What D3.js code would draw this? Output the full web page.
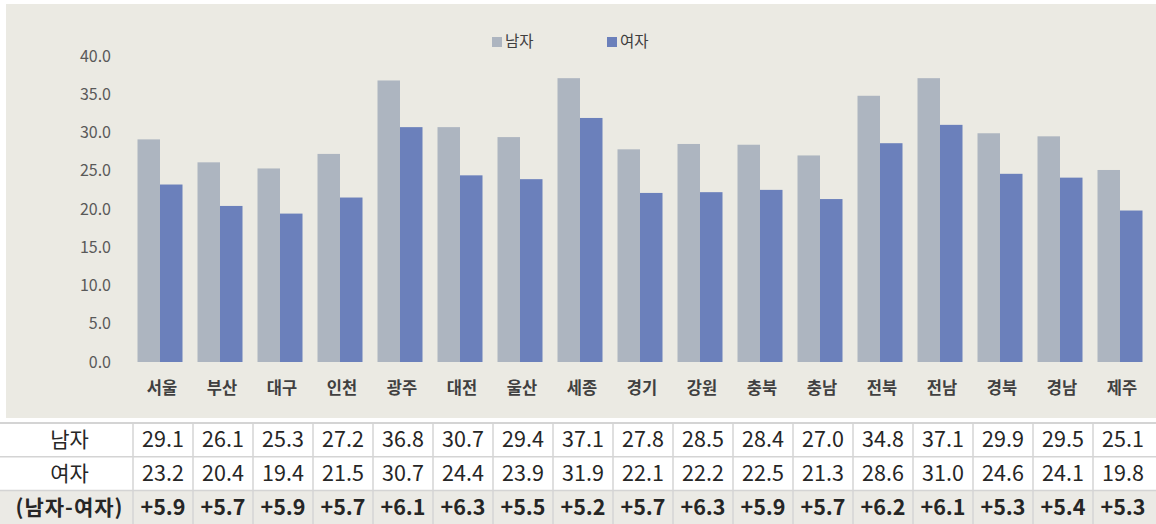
<!DOCTYPE html>
<html>
<head>
<meta charset="utf-8">
<script src="https://cdn.jsdelivr.net/npm/d3@7"></script>
<style>
  body { margin: 0; background: #fff; }
  text { font-family: "Noto Sans CJK KR", "Noto Sans", sans-serif; }
</style>
</head>
<body>
<svg id="chart" width="1156" height="524"></svg>
<script>

// data
var regions = ["서울","부산","대구","인천","광주","대전","울산","세종","경기","강원","충북","충남","전북","전남","경북","경남","제주"];
var male    = [29.1,26.1,25.3,27.2,36.8,30.7,29.4,37.1,27.8,28.5,28.4,27.0,34.8,37.1,29.9,29.5,25.1];
var female  = [23.2,20.4,19.4,21.5,30.7,24.4,23.9,31.9,22.1,22.2,22.5,21.3,28.6,31.0,24.6,24.1,19.8];
var diff    = ["+5.9","+5.7","+5.9","+5.7","+6.1","+6.3","+5.5","+5.2","+5.7","+6.3","+5.9","+5.7","+6.2","+6.1","+5.3","+5.4","+5.3"];
var yTicks  = [0,5,10,15,20,25,30,35,40];
var seriesNames = ["남자","여자"];
var rowLabels = ["남자","여자","(남자-여자)"];

var colMale = "#adb5c0", colFemale = "#6b80bb";

var svg = d3.select("#chart");

// plot background
svg.append("rect")
    .attr("x", 6).attr("y", 4)
    .attr("width", 1150).attr("height", 414)
    .attr("fill", "#ebeae3");

var x = d3.scaleBand().domain(regions).range([130, 1150]).paddingInner(0.25).paddingOuter(0.125);
var xs = d3.scaleBand().domain(seriesNames).range([0, x.bandwidth()]);
var y = d3.scaleLinear().domain([0, 40]).range([362, 56]);

// y axis labels
svg.append("g").selectAll("text")
    .data(yTicks)
  .enter().append("text")
    .attr("x", 111)
    .attr("y", function(d) { return y(d); })
    .attr("dy", "0.35em")
    .attr("text-anchor", "end")
    .attr("font-size", 16)
    .attr("fill", "#595959")
    .text(function(d) { return d3.format(".1f")(d); });

var groups = svg.append("g").selectAll("g")
    .data(regions)
  .enter().append("g")
    .attr("transform", function(d) { return "translate(" + x(d) + ",0)"; });

groups.append("rect")
    .attr("x", xs("남자"))
    .attr("y", function(d, i) { return y(male[i]); })
    .attr("width", xs.bandwidth())
    .attr("height", function(d, i) { return y(0) - y(male[i]); })
    .attr("fill", colMale);

groups.append("rect")
    .attr("x", xs("여자"))
    .attr("y", function(d, i) { return y(female[i]); })
    .attr("width", xs.bandwidth())
    .attr("height", function(d, i) { return y(0) - y(female[i]); })
    .attr("fill", colFemale);

// category labels
svg.append("g").selectAll("text")
    .data(regions)
  .enter().append("text")
    .attr("x", function(d) { return x(d) + x.bandwidth() / 2 + 2; })
    .attr("y", 388)
    .attr("dy", "0.35em")
    .attr("text-anchor", "middle")
    .attr("font-size", 16.5)
    .attr("font-weight", "bold")
    .attr("fill", "#404040")
    .text(function(d) { return d; });

// legend
var legend = svg.append("g");
var legX = [492, 607];
seriesNames.forEach(function(s, i) {
  legend.append("rect")
      .attr("x", legX[i]).attr("y", 37)
      .attr("width", 10).attr("height", 10)
      .attr("fill", i == 0 ? colMale : colFemale);
  legend.append("text")
      .attr("x", legX[i] + 13).attr("y", 42)
      .attr("dy", "0.35em")
      .attr("font-size", 15.5)
      .attr("fill", "#404040")
      .text(s);
});

// table under the chart
var tableTop = 423, rowH = 33.7, firstW = 133, colW = 60;
var rows = [male.map(function(v) { return d3.format(".1f")(v); }),
            female.map(function(v) { return d3.format(".1f")(v); }),
            diff];

var table = svg.append("g");

table.append("rect")
    .attr("x", 0).attr("y", tableTop + 2 * rowH)
    .attr("width", 1156).attr("height", rowH)
    .attr("fill", "#ebeae5");

// grid lines
for (var r = 0; r <= 2; r++) {
  table.append("line")
      .attr("x1", 0).attr("x2", 1156)
      .attr("y1", tableTop + r * rowH).attr("y2", tableTop + r * rowH)
      .attr("stroke", "#d4d4d4").attr("stroke-width", r == 0 ? 2 : 1.5);
}
for (var c = 0; c <= 16; c++) {
  table.append("line")
      .attr("x1", firstW + c * colW).attr("x2", firstW + c * colW)
      .attr("y1", tableTop).attr("y2", 524)
      .attr("stroke", "#d4d4d4").attr("stroke-width", 1.5);
}

rowLabels.forEach(function(lab, r) {
  var cy = tableTop + r * rowH + rowH / 2;
  table.append("text")
      .attr("x", firstW / 2 + 3).attr("y", cy)
      .attr("dy", "0.35em")
      .attr("text-anchor", "middle")
      .attr("font-size", r == 2 ? 21 : 21)
      .attr("font-weight", r == 2 ? "bold" : "normal")
      .attr("letter-spacing", r == 2 ? 1 : 0)
      .attr("fill", "#262626")
      .text(lab);
  table.append("g").selectAll("text")
      .data(rows[r])
    .enter().append("text")
      .attr("x", function(d, i) { return firstW + colW * i + colW / 2; })
      .attr("y", cy)
      .attr("dy", "0.35em")
      .attr("text-anchor", "middle")
      .attr("font-size", 21.5)
      .attr("font-weight", r == 2 ? "bold" : "normal")
      .attr("fill", "#262626")
      .text(function(d) { return d; });
});

</script>
</body>
</html>
